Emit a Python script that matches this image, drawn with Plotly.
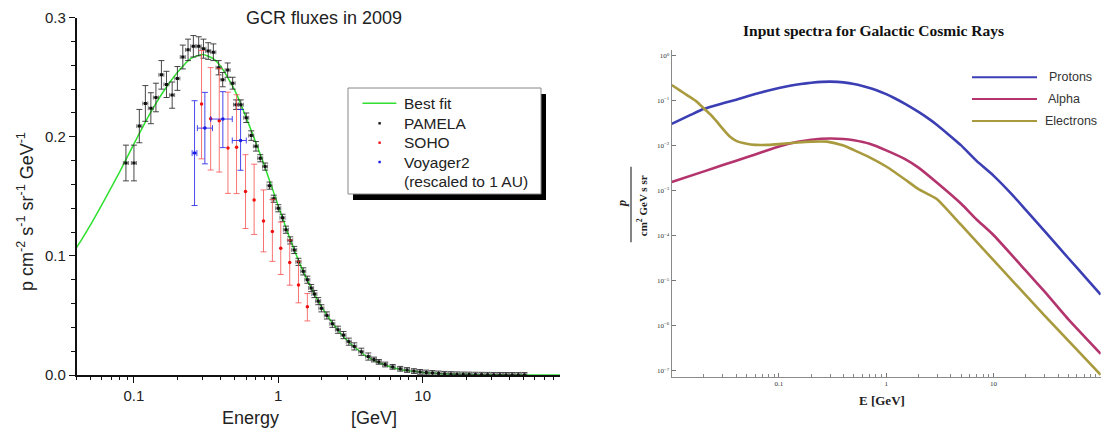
import math
import plotly.graph_objects as go

# ---------------------------------------------------------------- data
# Best-fit proton spectrum (p cm^-2 s^-1 sr^-1 GeV^-1) vs kinetic energy (GeV)
proton_energy = [0.01, 0.015, 0.02, 0.03, 0.04, 0.05, 0.06, 0.08, 0.10, 0.13, 0.16,
                 0.20, 0.25, 0.30, 0.35, 0.40, 0.50, 0.60, 0.70, 0.80, 1.0, 1.2, 1.5,
                 2.0, 2.5, 3.0, 4.0, 5.0, 7.0, 10, 15, 20, 30, 50, 70, 100]
proton_flux = [0.031, 0.049, 0.067, 0.089, 0.107, 0.126, 0.143, 0.171, 0.194, 0.220, 0.238,
               0.254, 0.266, 0.269, 0.266, 0.259, 0.239, 0.216, 0.195, 0.176, 0.142, 0.115, 0.086,
               0.057, 0.040, 0.029, 0.0163, 0.0103, 0.0046, 0.0022, 0.00082, 0.00038, 0.000128,
               3.2e-5, 1.3e-5, 5.0e-6]

# PAMELA 2009 measurements
pamela_energy = [0.088, 0.100, 0.109, 0.120, 0.131, 0.142, 0.155, 0.168, 0.184, 0.200,
                 0.218, 0.237, 0.258, 0.281, 0.303, 0.327, 0.355, 0.386, 0.412, 0.446,
                 0.483, 0.510, 0.550, 0.600, 0.650, 0.700, 0.750, 0.810, 0.870, 0.930,
                 1.00, 1.07, 1.13, 1.21, 1.29, 1.38, 1.49, 1.59, 1.69, 1.78,
                 1.89, 1.99, 2.17, 2.37, 2.59, 2.83, 3.08, 3.36, 3.76, 4.20,
                 4.60, 4.97, 5.50, 6.20, 7.00, 7.80, 8.70, 9.60, 10.6, 11.7,
                 12.9, 14.2, 15.7, 17.3, 19.1, 21.0, 23.2, 25.6, 28.2, 31.1,
                 34.3, 37.8, 41.7, 46.0, 50.7]
pamela_flux = [0.178, 0.178, 0.209, 0.228, 0.224, 0.233, 0.252, 0.244, 0.235, 0.249,
               0.267, 0.273, 0.276, 0.276, 0.274, 0.272, 0.271, 0.258, 0.248, 0.256,
               0.245, 0.227, 0.227, 0.216, 0.201, 0.192, 0.182, 0.175, 0.159, 0.148,
               0.140, 0.132, 0.122, 0.113, 0.105, 0.095, 0.087, 0.080, 0.073, 0.068,
               0.062, 0.056, 0.050, 0.043, 0.038, 0.0335, 0.028, 0.024, 0.0195, 0.0155,
               0.013, 0.011, 0.0088, 0.0068, 0.0052, 0.0042, 0.0033, 0.0026, 0.0021, 0.0017,
               0.0013, 0.0010, 0.0008, 0.0006, 0.0005, 0.0004, 0.0003, 0.00025, 0.0002, 0.00015,
               0.00012, 0.0001, 0.00008, 0.00006, 0.00005]
pamela_err = [0.015, 0.015, 0.014, 0.015, 0.013, 0.012, 0.012, 0.011, 0.011, 0.010,
              0.010, 0.009, 0.009, 0.008, 0.008, 0.007, 0.007, 0.006, 0.006, 0.006,
              0.005, 0.004, 0.004, 0.004, 0.004, 0.004, 0.003, 0.003, 0.003, 0.003,
              0.003, 0.003, 0.003, 0.003, 0.003, 0.003, 0.003, 0.003, 0.003, 0.003,
              0.003, 0.003, 0.003, 0.003, 0.003, 0.003, 0.003, 0.003, 0.003, 0.003,
              0.002, 0.002, 0.002, 0.002, 0.002, 0.002, 0.002, 0.002, 0.002, 0.002,
              0.002, 0.002, 0.002, 0.002, 0.002, 0.002, 0.002, 0.002, 0.002, 0.002,
              0.002, 0.002, 0.002, 0.002, 0.002]

# SOHO measurements
soho_energy = [0.294, 0.340, 0.390, 0.448, 0.514, 0.593, 0.680, 0.790, 0.910, 1.04, 1.20, 1.38, 1.59]
soho_flux = [0.2275, 0.2151, 0.2134, 0.1905, 0.1913, 0.154, 0.147, 0.1294, 0.1204, 0.1064,
             0.0944, 0.0756, 0.0574]
soho_err_plus = [0.045, 0.043, 0.044, 0.047, 0.044, 0.031, 0.030, 0.026, 0.027, 0.022, 0.019, 0.020, 0.011]
soho_err_minus = [0.046, 0.043, 0.043, 0.038, 0.039, 0.031, 0.029, 0.026, 0.025, 0.022, 0.019, 0.015, 0.012]

# Voyager 2 measurements, rescaled to 1 AU
voyager_energy = [0.263, 0.310, 0.413, 0.548]
voyager_flux = [0.1863, 0.2073, 0.2149, 0.1969]
voyager_err_plus = [0.044, 0.030, 0.023, 0.026]
voyager_err_minus = [0.044, 0.030, 0.024, 0.025]
voyager_bin_plus = [0.010, 0.040, 0.067, 0.052]
voyager_bin_minus = [0.010, 0.035, 0.073, 0.068]

# Input spectra: alpha particles and electrons
alpha_energy = [0.01, 0.02, 0.03, 0.05, 0.07, 0.10, 0.15, 0.20, 0.30, 0.40, 0.50, 0.70,
                1.0, 1.5, 2.0, 3.0, 5.0, 7.0, 10, 20, 30, 50, 100]
alpha_flux = [0.00158, 0.00273, 0.00377, 0.0056, 0.00733, 0.0098, 0.0124, 0.0138, 0.0147,
              0.0143, 0.0134, 0.0112, 0.0080, 0.0051, 0.0033, 0.00150, 0.00052, 0.00023,
              0.000105, 1.7e-5, 5.8e-6, 1.4e-6, 2.4e-7]

electron_energy = [0.010, 0.012, 0.014, 0.017, 0.020, 0.023, 0.026, 0.030, 0.035, 0.040,
                   0.050, 0.060, 0.080, 0.10, 0.15, 0.20, 0.28, 0.40, 0.50, 0.70,
                   1.0, 1.5, 2.0, 2.5, 3.0, 5.0, 10, 30, 100]
electron_flux = [0.227, 0.170, 0.133, 0.098, 0.068, 0.050, 0.036, 0.024, 0.0160, 0.0130,
                 0.0112, 0.0106, 0.0106, 0.0110, 0.0120, 0.0125, 0.0125, 0.0102, 0.0081, 0.0056,
                 0.0035, 0.0018, 0.00110, 0.00083, 0.00065, 0.000176, 2.9e-5, 1.7e-6, 8.2e-8]

left_x_ticks = [0.1, 1, 10]
left_x_labels = ["0.1", "1", "10"]
right_x_ticks = [0.1, 1, 10, 100]
right_x_labels = ["0.1", "1", "10", "100"]
right_y_ticks = [1, 1e-1, 1e-2, 1e-3, 1e-4, 1e-5, 1e-6, 1e-7]
right_y_labels = ["10<sup>0</sup>", "10<sup>\u22121</sup>", "10<sup>\u22122</sup>",
                  "10<sup>\u22123</sup>", "10<sup>\u22124</sup>", "10<sup>\u22125</sup>",
                  "10<sup>\u22126</sup>", "10<sup>\u22127</sup>"]

# ---------------------------------------------------------------- layout helpers
W, H = 1105, 433
SANS = "Arial, Liberation Sans, sans-serif"
SERIF = "Times New Roman, Liberation Serif, serif"


def fx(p):
    return p / W


def fy(p):
    return 1 - p / H


def minor_log(lo, hi):
    return [m * 10 ** k for k in range(lo, hi) for m in range(2, 10)]


GREEN = "#2fe02f"
BLUE_P = "#3c3fb4"
MAGENTA = "#b4346e"
OLIVE = "#a99a3e"

fig = go.Figure()

# ---------------------------------------------------------------- left panel
fig.add_trace(go.Scatter(
    x=proton_energy, y=proton_flux, mode="lines", xaxis="x", yaxis="y",
    line=dict(color=GREEN, width=1.5, shape="spline", smoothing=0.6),
    hoverinfo="skip", showlegend=False))

fig.add_trace(go.Scatter(
    x=pamela_energy, y=pamela_flux, mode="markers", xaxis="x", yaxis="y",
    marker=dict(symbol="square", size=3, color="#111"),
    error_y=dict(type="data", array=pamela_err, color="rgba(40,40,40,0.85)", thickness=1, width=3),
    error_x=dict(type="percent", value=4, color="rgba(60,60,60,0.7)", thickness=1, width=2),
    showlegend=False))

fig.add_trace(go.Scatter(
    x=soho_energy, y=soho_flux, mode="markers", xaxis="x", yaxis="y",
    marker=dict(symbol="circle", size=3.5, color="#f01010"),
    error_y=dict(type="data", array=soho_err_plus, arrayminus=soho_err_minus,
                 color="rgba(245,70,70,0.75)", thickness=1, width=3),
    showlegend=False))

fig.add_trace(go.Scatter(
    x=voyager_energy, y=voyager_flux, mode="markers", xaxis="x", yaxis="y",
    marker=dict(symbol="circle", size=3.5, color="#1a1ae6"),
    error_y=dict(type="data", array=voyager_err_plus, arrayminus=voyager_err_minus,
                 color="rgba(40,40,235,0.85)", thickness=1, width=3),
    error_x=dict(type="data", array=voyager_bin_plus, arrayminus=voyager_bin_minus,
                 color="rgba(40,40,235,0.85)", thickness=1, width=3),
    showlegend=False))

# ---------------------------------------------------------------- right panel
for e, f, c in [(proton_energy, proton_flux, BLUE_P),
                (alpha_energy, alpha_flux, MAGENTA),
                (electron_energy, electron_flux, OLIVE)]:
    fig.add_trace(go.Scatter(
        x=e, y=f, mode="lines", xaxis="x2", yaxis="y2",
        line=dict(color=c, width=2.6, shape="spline", smoothing=0.5),
        hoverinfo="skip", showlegend=False))

x_lo = math.log10(0.04)
x_hi = -1 + (560 - 133.2) / 144.6

fig.update_layout(
    width=W, height=H,
    margin=dict(l=0, r=0, t=0, b=0, autoexpand=False),
    paper_bgcolor="white", plot_bgcolor="white",
    showlegend=False,
    xaxis=dict(
        type="log", range=[x_lo, x_hi], domain=[fx(76.5), fx(560)], anchor="y",
        automargin=False,
        showline=True, linecolor="#111", linewidth=1.5, mirror=False,
        showgrid=False, zeroline=False,
        ticks="outside", ticklen=6, tickwidth=1.3, tickcolor="#111",
        tickmode="array", tickvals=left_x_ticks, ticktext=left_x_labels,
        tickfont=dict(family=SANS, size=15, color="#222"),
        minor=dict(ticks="outside", ticklen=3.5, tickwidth=1, tickcolor="#111",
                   tickmode="array", tickvals=minor_log(-2, 2), showgrid=False),
    ),
    yaxis=dict(
        range=[0, 0.3], domain=[fy(375), fy(17.7)], anchor="x",
        automargin=False,
        showline=True, linecolor="#111", linewidth=1.5,
        showgrid=False, zeroline=False,
        ticks="outside", ticklen=6, tickwidth=1.3, tickcolor="#111",
        dtick=0.1, tick0=0, tickformat=".1f",
        tickfont=dict(family=SANS, size=15, color="#222"),
        minor=dict(ticks="outside", ticklen=3.5, tickwidth=1, tickcolor="#111",
                   dtick=0.02, showgrid=False),
    ),
    xaxis2=dict(
        type="log", range=[-2, 2], domain=[fx(671.7), fx(1100.7)], anchor="y2",
        automargin=False,
        showline=True, linecolor="#8a8a8a", linewidth=1.3,
        showgrid=False, zeroline=False,
        ticks="inside", ticklen=4, tickwidth=1, tickcolor="#777",
        tickmode="array", tickvals=right_x_ticks, ticktext=right_x_labels,
        tickfont=dict(family=SERIF, size=7, color="#333"),
        minor=dict(ticks="inside", ticklen=2.5, tickwidth=1, tickcolor="#888",
                   tickmode="array", tickvals=minor_log(-2, 2), showgrid=False),
    ),
    yaxis2=dict(
        type="log", range=[-7.127, 0.133], domain=[fy(376.7), fy(50)], anchor="x2",
        automargin=False,
        showline=True, linecolor="#8a8a8a", linewidth=1.3,
        showgrid=False, zeroline=False,
        ticks="inside", ticklen=4, tickwidth=1, tickcolor="#777",
        tickmode="array", tickvals=right_y_ticks, ticktext=right_y_labels,
        tickfont=dict(family=SERIF, size=7, color="#333"),
    ),
)

shapes = []
annotations = []


def text(x, y, s, size, family=SANS, color="#222", xanchor="center", angle=0):
    annotations.append(dict(
        x=fx(x), y=fy(y), xref="paper", yref="paper", text=s, showarrow=False,
        xanchor=xanchor, yanchor="middle", textangle=angle,
        font=dict(family=family, size=size, color=color)))


# left titles
text(324, 18, "GCR fluxes in 2009", 18)
text(250.5, 418, "Energy", 18)
text(373.5, 418, "[GeV]", 18)
text(25, 212, "p cm<sup>-2</sup> s<sup>-1</sup> sr<sup>-1</sup> GeV<sup>-1</sup>", 18, angle=-90)

# left legend box with drop shadow
shapes.append(dict(type="rect", xref="paper", yref="paper", layer="above",
                   x0=fx(353), x1=fx(546), y0=fy(200), y1=fy(94),
                   fillcolor="black", line=dict(width=0)))
shapes.append(dict(type="rect", xref="paper", yref="paper", layer="above",
                   x0=fx(348), x1=fx(541), y0=fy(194), y1=fy(88),
                   fillcolor="white", line=dict(color="#888", width=1)))
shapes.append(dict(type="line", xref="paper", yref="paper", layer="above",
                   x0=fx(362.5), x1=fx(396.4), y0=fy(103.3), y1=fy(103.3),
                   line=dict(color=GREEN, width=1.5)))
for yy, col in [(123.3, "#111"), (142.7, "#f01010"), (162, "#1a1ae6")]:
    shapes.append(dict(type="rect", xref="paper", yref="paper", layer="above",
                       x0=fx(378.4), x1=fx(380.8), y0=fy(yy + 1.2), y1=fy(yy - 1.2),
                       fillcolor=col, line=dict(width=0)))
for yy, s in [(103.3, "Best fit"), (123.3, "PAMELA"), (142.7, "SOHO"),
              (162, "Voyager2"), (181.7, "(rescaled to 1 AU)")]:
    text(401.8, yy, s, 15.5, xanchor="left")

# right titles
text(873, 30, "<b>Input spectra for Galactic Cosmic Rays</b>", 15.5, family=SERIF, color="#111")
text(882, 400, "<b>E [GeV]</b>", 13, family=SERIF, color="#222")
text(622.7, 203.3, "<b><i>p</i></b>", 12, family=SERIF, color="#222", angle=-90)
text(641.7, 205.5, "<b>cm<sup>2</sup> GeV s sr</b>", 11, family=SERIF, color="#222", angle=-90)
shapes.append(dict(type="line", xref="paper", yref="paper", layer="above",
                   x0=fx(631), x1=fx(631), y0=fy(242.3), y1=fy(166.7),
                   line=dict(color="#333", width=1.2)))

# right legend
for yy, col, s, xs in [(77.3, BLUE_P, "Protons", 1046.5),
                       (99.0, MAGENTA, "Alpha", 1045.5),
                       (121.0, OLIVE, "Electrons", 1042.5)]:
    shapes.append(dict(type="line", xref="paper", yref="paper", layer="above",
                       x0=fx(972), x1=fx(1037), y0=fy(yy), y1=fy(yy),
                       line=dict(color=col, width=2)))
    text(xs, yy, s, 12.5, color="#333", xanchor="left")

fig.update_layout(shapes=shapes, annotations=annotations)

fig.write_html("out.html")
